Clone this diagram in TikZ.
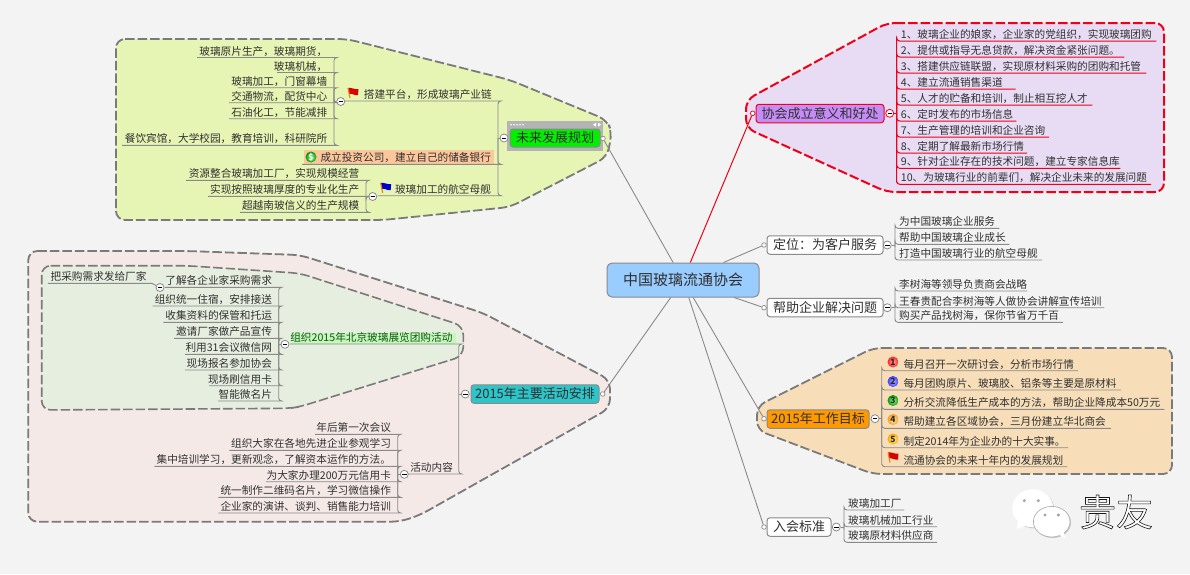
\documentclass[tikz,border=0pt]{standalone}
\usepackage{fontspec}
\setmainfont{Noto Sans CJK SC}
\newcommand\cm{\symbol{"FF0C}}
\newcommand\cl{\symbol{"FF1A}}
\definecolor{bgc}{HTML}{F3F3F3}
\definecolor{linec}{HTML}{8A8A8A}
\definecolor{dashc}{HTML}{7A7A7A}
\definecolor{txt}{HTML}{303030}
\definecolor{redl}{HTML}{F00018}
\definecolor{cgreen}{HTML}{E6F4B4}
\definecolor{cpurple}{HTML}{E8DCF4}
\definecolor{corange}{HTML}{F7DEB9}
\definecolor{cpink}{HTML}{F4E9E7}
\definecolor{cinner}{HTML}{E6EEDF}
\definecolor{ncenter}{HTML}{99CCFF}
\definecolor{ngray}{HTML}{B4B4B4}
\definecolor{ngreen}{HTML}{00F000}
\definecolor{hlorange}{HTML}{FDC79C}
\definecolor{npurple}{HTML}{C58CF5}
\definecolor{norange}{HTML}{FF9900}
\definecolor{nteal}{HTML}{2DC5C9}
\definecolor{hlgreen}{HTML}{C8F5C0}
\definecolor{tgreen}{HTML}{0A5A0A}
\tikzset{
  x=1pt,y=-1pt,
  lk/.style={linec,line width=0.9pt},
  leaf/.style={inner sep=0pt,text height=10pt,text depth=2.2pt,text=txt,font=\fontsize{10.65}{12}\selectfont},
  cloudshape/.style={draw=dashc,line width=1.8pt,dash pattern=on 9.5pt off 3pt,rounded corners=9pt},
  topic/.style={draw=linec,line width=1pt,rounded corners=3pt,inner sep=0pt,text=txt,font=\fontsize{13}{13}\selectfont},
  fold/.style={circle,draw=linec,fill=white,line width=0.8pt,minimum size=8pt,inner sep=0pt,
    path picture={\draw[black,line width=1pt] ([xshift=-2.2pt]path picture bounding box.center) -- ([xshift=2.2pt]path picture bounding box.center);}},
  dot/.style={circle,draw=linec,fill=white,line width=0.7pt,minimum size=4.6pt,inner sep=0pt},
  numball/.style={circle,inner sep=0pt,minimum size=11pt,text=black!85,font=\fontsize{8.5}{8.5}\selectfont\bfseries},
}
\newcommand\rleaf[7][3]{%
  \pgfmathsetmacro\lfw{#5-#4}%
  \node[leaf,anchor=south west] (#2) at (#4,#6) {\makebox[\lfw pt][l]{\hspace{#1pt}#7}};
  \draw[lk,rounded corners=3pt] (#3) |- (#2.south west) -- (#2.south east);
}
\newcommand\lleaf[7][7]{%
  \pgfmathsetmacro\lfw{#5-#4}%
  \node[leaf,anchor=south west] (#2) at (#4,#6) {\makebox[\lfw pt][r]{#7\hspace{#1pt}}};
  \draw[lk,rounded corners=3pt] (#3) |- (#2.south east) -- (#2.south west);
}
\newcommand\flagicon[4]{%
  \fill[#4] (#2-5,#3-5) .. controls (#2-2,#3-6) and (#2+2,#3-3) .. (#2+5.5,#3-4) -- (#2+5,#3+2) .. controls (#2+2,#3+3) and (#2-1,#3) .. (#2-3.8,#3+1) -- cycle;
  \draw[line width=1.1pt,orange!70!brown] (#2-5,#3-5) -- (#2-3,#3+5);
}
\begin{document}
\begin{tikzpicture}
\useasboundingbox (0,0) rectangle (1190,574);
\fill[bgc] (0,0) rectangle (1190,574);

% clouds
\draw[cloudshape,fill=cgreen] (116,39) -- (347,39) -- (510,80) -- (607,120) -- (612,133) -- (607,157) -- (510,207) -- (383,220) -- (116,220) -- cycle;
\draw[cloudshape,draw=redl,fill=cpurple,line width=2pt] (886.7,23) -- (1164,23) -- (1164,192) -- (886.7,192) -- (746,128) -- (746,100) -- cycle;
\draw[cloudshape,fill=corange] (873,348) -- (1172,348) -- (1172,474) -- (873,474) -- (757,430) -- (757,406) -- cycle;
\draw[cloudshape,fill=cpink] (28.3,251) -- (186.7,251) -- (300,255) -- (483,313) -- (610,380) -- (610,408) -- (420,515) -- (400,521.7) -- (28.3,521.7) -- cycle;
\draw[cloudshape,fill=cinner,line width=1.6pt] (41.7,265.7) -- (186.7,265.7) -- (300,273.3) -- (463.3,326) -- (463.3,356) -- (300,406.7) -- (290,408.3) -- (41.7,410) -- cycle;

% central and main topics
\node[draw=linec,fill=ncenter,line width=1pt,rounded corners=5pt,minimum width=152pt,minimum height=34pt,inner sep=0pt,text=txt,font=\fontsize{15}{15}\selectfont] (center) at (683,280) {中国玻璃流通协会};

% future plan
\fill[ngray] (507,121) rectangle (603,151);
\node[topic,fill=ngreen,minimum width=90pt,minimum height=18pt] (future) at (555,138) {未来发展规划};
\foreach \xa in {511,514,517,520,523}{\fill[white] (\xa,124.7) circle (0.9pt);}
\fill[white] (593,124.7) -- (596,122.7) -- (596,126.7) -- cycle;
\fill[white] (598,122.7) -- (601,124.7) -- (598,126.7) -- cycle;
\node[dot] (future-dot) at (603,138.5) {};
\draw[linec,line width=0.9pt] (center) -- (future-dot);

\node[fold] (f-fut) at (504,138) {};
\coordinate (p-fut) at (498,138);
\draw[lk] (f-fut) -- (p-fut);

\lleaf[6.5]{plat}{p-fut}{345}{498}{101}{搭建平台\cm{}形成玻璃产业链}
\flagicon{flagA}{353}{93}{red!85!black}
\fill[hlorange] (304,150) rectangle (494,164);
\lleaf[7.3]{bank}{p-fut}{302}{498}{164.3}{成立投资公司\cm{}建立自己的储备银行}
\node[numball,inner color=green!35!white,outer color=green!60!black,text=white] (icon-dollar) at (311,157) {\$};
\lleaf[7.3]{carrier}{p-fut}{378}{498}{195.7}{玻璃加工的航空母舰}
\flagicon{flagB}{385.7}{188}{blue!80!black}

\node[fold] (f-plat) at (340.7,101.5) {};
\coordinate (p-plat) at (334,101.5);
\draw[lk] (f-plat) -- (p-plat);
\lleaf{a1}{p-plat}{197}{334}{57.5}{玻璃原片生产\cm{}玻璃期货\cm{}}
\lleaf{a2}{p-plat}{277}{334}{72.5}{玻璃机械\cm{}}
\lleaf{a3}{p-plat}{238}{334}{87.7}{玻璃加工\cm{}门窗幕墙}
\lleaf{a4}{p-plat}{229}{334}{102.7}{交通物流\cm{}配货中心}
\lleaf{a5}{p-plat}{229}{334}{118.7}{石油化工\cm{}节能减排}
\lleaf{a6}{p-plat}{122}{334}{145.3}{餐饮宾馆\cm{}大学校园\cm{}教育培训\cm{}科研院所}

\node[fold] (f-car) at (372.7,196.5) {};
\coordinate (p-car) at (366,196.5);
\draw[lk] (f-car) -- (p-car);
\lleaf{b1}{p-car}{186}{366}{180.3}{资源整合玻璃加工厂\cm{}实现规模经营}
\lleaf{b2}{p-car}{208}{366}{196.3}{实现按照玻璃厚度的专业化生产}
\lleaf{b3}{p-car}{240}{366}{212.3}{超越南玻信义的生产规模}

% purpose (red)
\node[topic,draw=redl,fill=npurple,minimum width=128pt,minimum height=18.5pt] (purpose) at (820,113.5) {协会成立意义和好处};
\node[dot,draw=redl] (purpose-dot) at (752.7,113.3) {};
\draw[redl,line width=1pt] (center) -- (purpose-dot);
\node[fold,draw=redl] (f-pur) at (889.7,113.3) {};
\coordinate (p-pur) at (896.7,113.3);
\draw[redl,line width=0.9pt] (f-pur) -- (p-pur);
\begin{scope}[lk/.style={redl,line width=1pt}]
\rleaf[4]{r1}{p-pur}{896.7}{1156}{41}{1、玻璃企业的娘家\cm{}企业家的党组织\cm{}实现玻璃团购}
\rleaf[4]{r2}{p-pur}{896.7}{1124}{57}{2、提供或指导无息贷款\cm{}解决资金紧张问题。}
\rleaf[4]{r3}{p-pur}{896.7}{1146}{73}{3、搭建供应链联盟\cm{}实现原材料采购的团购和托管}
\rleaf[4]{r4}{p-pur}{896.7}{1015.3}{89}{4、建立流通销售渠道}
\rleaf[4]{r5}{p-pur}{896.7}{1092}{105}{5、人才的贮备和培训\cm{}制止相互挖人才}
\rleaf[4]{r6}{p-pur}{896.7}{1016}{121}{6、定时发布的市场信息}
\rleaf[4]{r7}{p-pur}{896.7}{1048.7}{137}{7、生产管理的培训和企业咨询}
\rleaf[4]{r8}{p-pur}{896.7}{1026.7}{153}{8、定期了解最新市场行情}
\rleaf[4]{r9}{p-pur}{896.7}{1120}{168.3}{9、针对企业存在的技术问题\cm{}建立专家信息库}
\rleaf[4]{r10}{p-pur}{896.7}{1150.7}{184.3}{10、为玻璃行业的前辈们\cm{}解决企业未来的发展问题}
\end{scope}

% positioning
\node[topic,fill=white,minimum width=116pt,minimum height=18.5pt] (pos) at (825,245) {定位\cl{}为客户服务};
\node[dot] (pos-dot) at (764,245) {};
\draw[linec,line width=0.9pt] (center) -- (pos-dot);
\node[fold] (f-pos) at (887.3,245) {};
\coordinate (p-pos) at (895,245);
\draw[lk] (f-pos) -- (p-pos);
\rleaf[4]{c1}{p-pos}{895}{999}{228.3}{为中国玻璃企业服务}
\rleaf[4]{c2}{p-pos}{895}{1009}{244.3}{帮助中国玻璃企业成长}
\rleaf[4]{c3}{p-pos}{895}{1041.7}{260}{打造中国玻璃行业的航空母舰}

% help
\node[topic,fill=white,minimum width=116pt,minimum height=18.5pt] (help) at (825,307.5) {帮助企业解决问题};
\node[dot] (help-dot) at (764,307.7) {};
\draw[linec,line width=0.9pt] (center) -- (help-dot);
\node[fold] (f-help) at (887.3,307.7) {};
\coordinate (p-help) at (895,307.7);
\draw[lk] (f-help) -- (p-help);
\rleaf[4]{d1}{p-help}{895}{1026.7}{291}{李树海等领导负责商会战略}
\rleaf[4]{d2}{p-help}{895}{1104}{307.7}{王春贵配合李树海等人做协会讲解宣传培训}
\rleaf[4]{d3}{p-help}{895}{1062.7}{322.3}{购买产品找树海\cm{}保你节省万千百}

% 2015 goals
\node[topic,fill=norange,minimum width=102pt,minimum height=18.5pt] (goal) at (818,419) {2015年工作目标};
\node[dot] (goal-dot) at (764,418.7) {};
\draw[linec,line width=0.9pt] (center) -- (goal-dot);
\node[fold] (f-goal) at (875,418.7) {};
\coordinate (p-goal) at (881.7,418.7);
\draw[lk] (f-goal) -- (p-goal);
\rleaf[21.6]{g1}{p-goal}{881.7}{1077.7}{370.7}{每月召开一次研讨会\cm{}分析市场行情}
\rleaf[21.6]{g2}{p-goal}{881.7}{1120.7}{390}{每月团购原片、玻璃胶、铝条等主要是原材料}
\rleaf[21.6]{g3}{p-goal}{881.7}{1164}{409.3}{分析交流降低生产成本的方法\cm{}帮助企业降成本50万元}
\rleaf[21.6]{g4}{p-goal}{881.7}{1110.7}{428.3}{帮助建立各区域协会\cm{}三月份建立华北商会}
\rleaf[21.6]{g5}{p-goal}{881.7}{1067.7}{447.7}{制定2014年为企业办的十大实事。}
\rleaf[21.6]{g6}{p-goal}{881.7}{1067}{466.7}{流通协会的未来十年内的发展规划}
\node[numball,inner color=red!35!white,outer color=red!85!white] (n1) at (893,362) {1};
\node[numball,inner color=blue!30!white,outer color=blue!75!white] (n2) at (893,381.5) {2};
\node[numball,inner color=green!35!white,outer color=green!60!black] (n3) at (893,400.5) {3};
\node[numball,inner color=yellow!35!white,outer color=orange!85!white] (n4) at (893,419.5) {4};
\node[numball,inner color=yellow!40!white,outer color=orange!70!yellow] (n5) at (893,439) {5};
\flagicon{flagC}{893}{457.5}{red!85!black}

% admission
\node[topic,fill=white,minimum width=64pt,minimum height=18.5pt] (join) at (799,527) {入会标准};
\node[dot] (join-dot) at (764,527) {};
\draw[linec,line width=0.9pt] (center) -- (join-dot);
\node[fold] (f-join) at (836.3,527) {};
\coordinate (p-join) at (844,527);
\draw[lk] (f-join) -- (p-join);
\rleaf[4]{j1}{p-join}{844}{904}{510}{玻璃加工厂}
\rleaf[4]{j2}{p-join}{844}{936.7}{526.7}{玻璃机械加工行业}
\rleaf[4]{j3}{p-join}{844}{936.7}{542.3}{玻璃原材料供应商}

% 2015 activities
\node[topic,fill=nteal,minimum width=128pt,minimum height=18.5pt] (act) at (535,394) {2015年主要活动安排};
\node[dot] (act-dot) at (602.7,394) {};
\draw[linec,line width=0.9pt] (center) -- (act-dot);
\node[fold] (f-act) at (465.3,394) {};
\coordinate (p-act) at (458.7,394);
\draw[lk] (f-act) -- (p-act);
\fill[hlgreen] (291,333) rectangle (456,344);
\begin{scope}[leaf/.append style={text=tgreen}]
\lleaf[6.5]{expo}{p-act}{290}{458.7}{344}{组织2015年北京玻璃展览团购活动}
\end{scope}
\lleaf[6]{content}{p-act}{408}{458.7}{474}{活动内容}

\node[fold] (f-expo) at (285,344.3) {};
\coordinate (p-expo) at (278.7,344.3);
\draw[lk] (f-expo) -- (p-expo);
\lleaf{e1}{p-expo}{165}{278.7}{287.3}{了解各企业家采购需求}
\lleaf{e2}{p-expo}{152.7}{278.7}{306}{组织统一住宿\cm{}安排接送}
\lleaf{e3}{p-expo}{163.3}{278.7}{322.3}{收集资料的保管和托运}
\lleaf{e4}{p-expo}{174}{278.7}{338.3}{邀请厂家做产品宣传}
\lleaf{e5}{p-expo}{185}{278.7}{354.3}{利用31会议微信网}
\lleaf{e6}{p-expo}{185}{278.7}{370}{现场报名参加协会}
\lleaf{e7}{p-expo}{209}{278.7}{385.7}{现场刷信用卡}
\lleaf{e8}{p-expo}{218}{278.7}{401}{智能微名片}
\node[fold] (f-e1) at (160,287.5) {};
\node[leaf,anchor=south east] (e1a) at (151.7,283.3) {\makebox[103.4pt][r]{把采购需求发给厂家\hspace{5pt}}};
\draw[lk] (e1a.south west) -- (e1a.south east) -- (f-e1);

\node[fold] (f-content) at (404.3,474.3) {};
\coordinate (p-content) at (397.7,474.3);
\draw[lk] (f-content) -- (p-content);
\lleaf{h1}{p-content}{315}{397.7}{434.3}{年后第一次会议}
\lleaf{h2}{p-content}{229.3}{397.7}{450.3}{组织大家在各地先进企业参观学习}
\lleaf{h3}{p-content}{154.3}{397.7}{466.3}{集中培训学习\cm{}更新观念\cm{}了解资本运作的方法。}
\lleaf{h4}{p-content}{266}{397.7}{481.7}{为大家办理200万元信用卡}
\lleaf{h5}{p-content}{218.3}{397.7}{497.3}{统一制作二维码名片\cm{}学习微信操作}
\lleaf{h6}{p-content}{218.3}{397.7}{513}{企业家的演讲、谈判、销售能力培训}

% logo
\fill[gray!45] (1033.7,509.3) ellipse (20.5pt and 19pt);
\fill[gray!45] (1052.7,522.7) ellipse (18.3pt and 15.3pt);
\fill[white] (1032.7,508.3) ellipse (20.5pt and 19pt);
\fill[white] (1018,520) -- (1016.5,529) -- (1027,525) -- cycle;
\draw[gray!60,line width=0.7pt,fill=white] (1051.7,521.7) ellipse (18.3pt and 15.3pt);
\fill[white] (1056,533) -- (1065.5,538.5) -- (1063,530) -- cycle;
\foreach \ex/\ey in {1024.3/500.7,1038.3/500.7,1045/515,1058.3/515}{\fill[gray!70] (\ex,\ey) circle (1.7pt);}
\node[inner sep=0pt,text=white,font=\fontsize{37}{37}\selectfont] (logotext) at (1116,512) {\special{pdf:code q 2 Tr 0.6 w 0.1 G}贵友\special{pdf:code Q}};
\end{tikzpicture}
\end{document}
